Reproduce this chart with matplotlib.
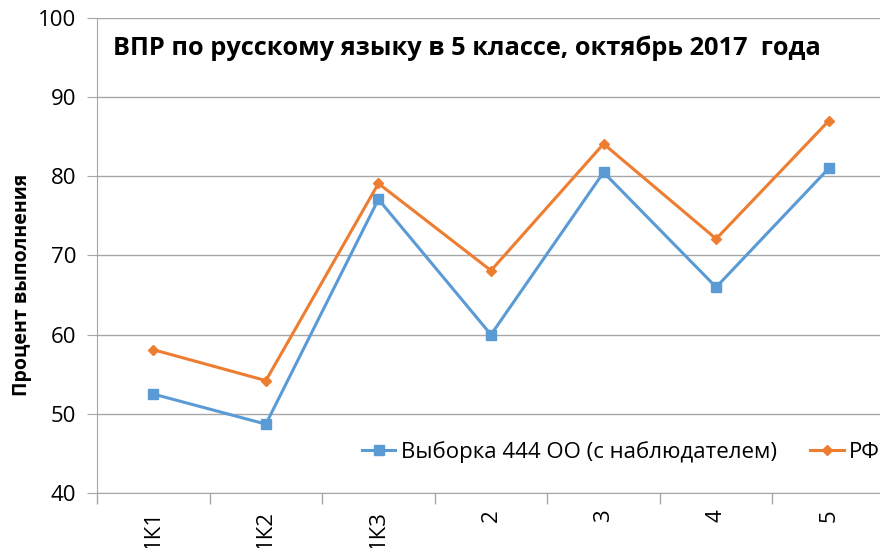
import numpy as np
import matplotlib.pyplot as plt

plt.rcParams['font.family'] = ['Open Sans', 'DejaVu Sans']

categories = ['1К1', '1К2', '1К3', '2', '3', '4', '5']
sample_444 = [52.5, 48.7, 77.1, 60.0, 80.5, 66.0, 81.0]
rf = [58.1, 54.2, 79.1, 68.1, 84.1, 72.1, 87.0]

blue = '#5b9bd5'
orange = '#ed7d31'
grid_c = '#a6a6a6'

fig = plt.figure(figsize=(8.8, 5.48), dpi=100)
ax = fig.add_axes([97 / 880, 55 / 548, 788 / 880, 475 / 548])

x = np.arange(len(categories))
ax.plot(x, sample_444, color=blue, lw=2.2, marker='s', ms=7, label='Выборка 444 ОО (с наблюдателем)')
ax.plot(x, rf, color=orange, lw=2.2, marker='D', ms=5, label='РФ')

ax.set_xlim(-0.5, len(categories) - 0.5)
ax.set_ylim(40, 100)
ax.set_yticks(range(40, 101, 10))
ax.set_xticks(x)
ax.set_xticklabels(categories, rotation=90, fontsize=16)
ax.set_xticks(np.arange(-0.5, len(categories), 1), minor=True)
ax.tick_params(axis='x', which='major', length=0, pad=12)
ax.tick_params(axis='x', which='minor', length=8, color=grid_c, width=1)
ax.tick_params(axis='y', length=7, color=grid_c, labelsize=16, pad=8)
ax.grid(axis='y', color=grid_c, lw=1)
ax.set_axisbelow(True)
for s in ['top', 'right']:
    ax.spines[s].set_visible(False)
for s in ['left', 'bottom']:
    ax.spines[s].set_color(grid_c)

ax.set_ylabel('Процент выполнения', fontsize=14, fontweight='bold')
ax.yaxis.set_label_coords(-0.0825, 0.438)
ax.text(0.02, 0.937, 'ВПР по русскому языку в 5 классе, октябрь 2017  года',
        transform=ax.transAxes, fontsize=18.3, fontweight='bold', ha='left', va='center')

ax.legend(loc='center left', bbox_to_anchor=(0.311, 0.087), ncol=2, frameon=False,
          fontsize=16, handlelength=1.5, columnspacing=1.5, handletextpad=0.25)

fig.savefig('out.png', dpi=100)
